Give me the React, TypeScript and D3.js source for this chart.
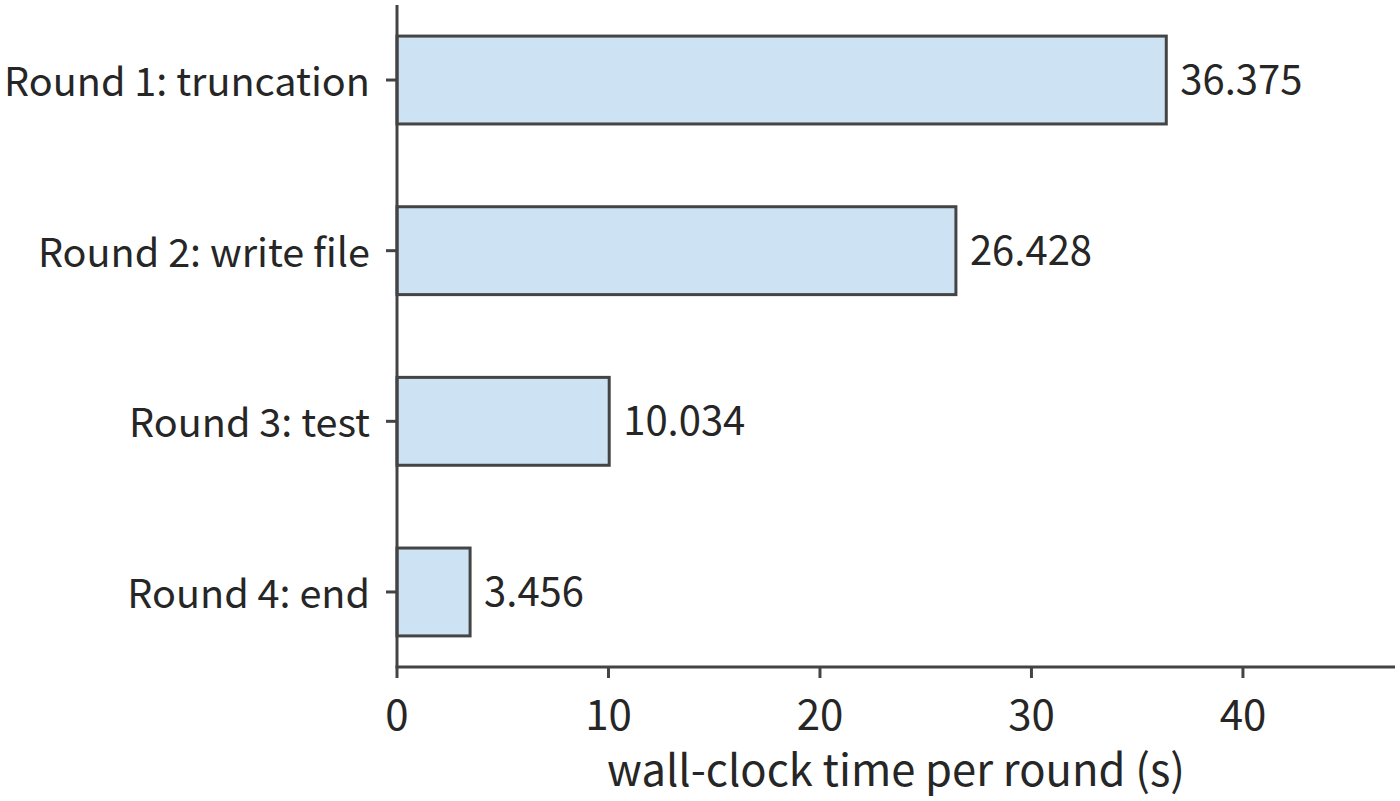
import * as d3 from "d3";

const categories = ["Round 1: truncation", "Round 2: write file", "Round 3: test", "Round 4: end"];
const values = [36.375, 26.428, 10.034, 3.456];
const valueLabels = ["36.375", "26.428", "10.034", "3.456"];
const xTicks = [0, 10, 20, 30, 40];
const xLabel = "wall-clock time per round (s)";

function App() {
    const width = 1400
    const height = 801
    const axisLeft = 397
    const axisRight = 1395
    const axisTop = 5
    const axisBottom = 667
    const font = "'Noto Sans CJK SC', 'Noto Sans', sans-serif"
    const ink = "#262626"
    const edge = "#444444"

    const xScale = d3.scaleLinear().domain([0, 47.19]).range([axisLeft, axisRight]);
    const yScale = d3.scaleBand().domain(categories).range([-5.3, 677.3]).paddingInner(0.485).paddingOuter(0.2425);

    return (
        <svg width={width} height={height} style={{ position: "absolute", left: 0, top: 0, background: "#ffffff" }} fontFamily={font}>
            {categories.map((c, i) => (
                <rect key={c} x={xScale(0)} y={yScale(c)!} width={xScale(values[i]) - xScale(0)} height={yScale.bandwidth()}
                    fill="#cde3f3" stroke={edge} strokeWidth={3}/>
            ))}

            {categories.map((c, i) => (
                <text key={c} x={xScale(values[i]) + 14} y={yScale(c)! + yScale.bandwidth() / 2 + 2} dy="0.3em" fontSize={40} fill={ink}>{valueLabels[i]}</text>
            ))}

            {/* y axis */}
            <line x1={axisLeft} y1={axisTop} x2={axisLeft} y2={axisBottom} stroke={edge} strokeWidth={3}/>
            {categories.map((c) => (
                <g key={c} transform={`translate(0, ${yScale(c)! + yScale.bandwidth() / 2})`}>
                    <line x1={axisLeft - 11} x2={axisLeft} stroke={edge} strokeWidth={3}/>
                    <text x={axisLeft - 27} y={4} dy="0.3em" textAnchor="end" fontSize={39.6} fill={ink}>{c}</text>
                </g>
            ))}

            {/* x axis */}
            <line x1={axisLeft - 1.5} y1={axisBottom} x2={axisRight} y2={axisBottom} stroke={edge} strokeWidth={3}/>
            {xTicks.map((t) => (
                <g key={t} transform={`translate(${xScale(t)}, ${axisBottom})`}>
                    <line y1={0} y2={11} stroke={edge} strokeWidth={3}/>
                    <text y={48.5} dy="0.35em" textAnchor="middle" fontSize={42} fill={ink}>{t}</text>
                </g>
            ))}

            <text x={(axisLeft + axisRight) / 2} y={771} dy="0.35em" textAnchor="middle" fontSize={43.5} fill={ink}>{xLabel}</text>
        </svg>
    )
}

export default App;
